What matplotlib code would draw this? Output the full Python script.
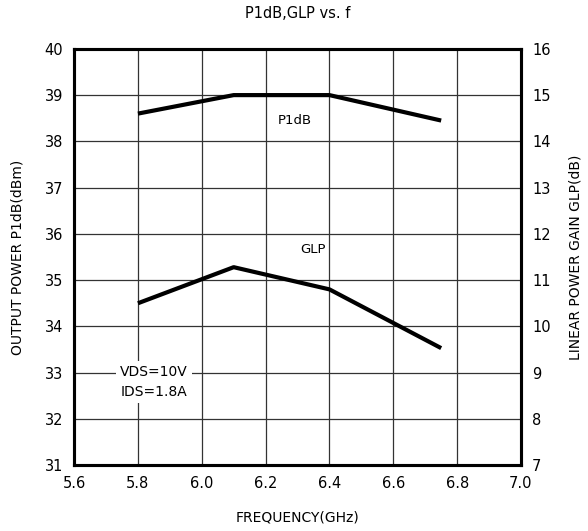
import numpy as np
import matplotlib.pyplot as plt

freq = [5.8, 6.1, 6.4, 6.75]
p1db = [38.6, 39.0, 39.0, 38.45]
glp = [10.5, 11.28, 10.8, 9.53]

fig = plt.figure(figsize=(5.88, 5.31), dpi=100)
ax = fig.add_axes([0.126, 0.124, 0.76, 0.784])
ax2 = ax.twinx()

ax.plot(freq, p1db, color='black', lw=3, solid_capstyle='butt')
ax2.plot(freq, glp, color='black', lw=3, solid_capstyle='butt')

ax.set_xlim(5.6, 7.0)
ax.set_ylim(31, 40)
ax2.set_ylim(7, 16)
ax.set_xticks(np.arange(5.6, 7.01, 0.2))
ax.set_xticklabels([f'{v:.1f}' for v in np.arange(5.6, 7.01, 0.2)])
ax.set_yticks(range(31, 41))
ax2.set_yticks(range(7, 17))

ax.grid(True, color='#333333', lw=0.9)
ax.set_axisbelow(True)

for a in (ax, ax2):
    for s in a.spines.values():
        s.set_linewidth(2.2)
    a.tick_params(length=0, labelsize=10.5, pad=8)

ax.set_title('P1dB,GLP vs. f', fontsize=10.5, pad=22)
ax.set_xlabel('FREQUENCY(GHz)', fontsize=10, labelpad=14)
ax.set_ylabel('OUTPUT POWER P1dB(dBm)', fontsize=10, labelpad=14)
ax2.set_ylabel('LINEAR POWER GAIN GLP(dB)', fontsize=10, labelpad=13)

ax.text(6.29, 38.45, 'P1dB', fontsize=9.5, ha='center', va='center')
ax.text(6.35, 35.67, 'GLP', fontsize=9.5, ha='center', va='center')
ax.text(5.745, 32.8, 'VDS=10V\nIDS=1.8A', fontsize=10, ha='left', va='center',
        linespacing=1.5, bbox=dict(facecolor='white', edgecolor='none', pad=3))

fig.savefig('out.png')
